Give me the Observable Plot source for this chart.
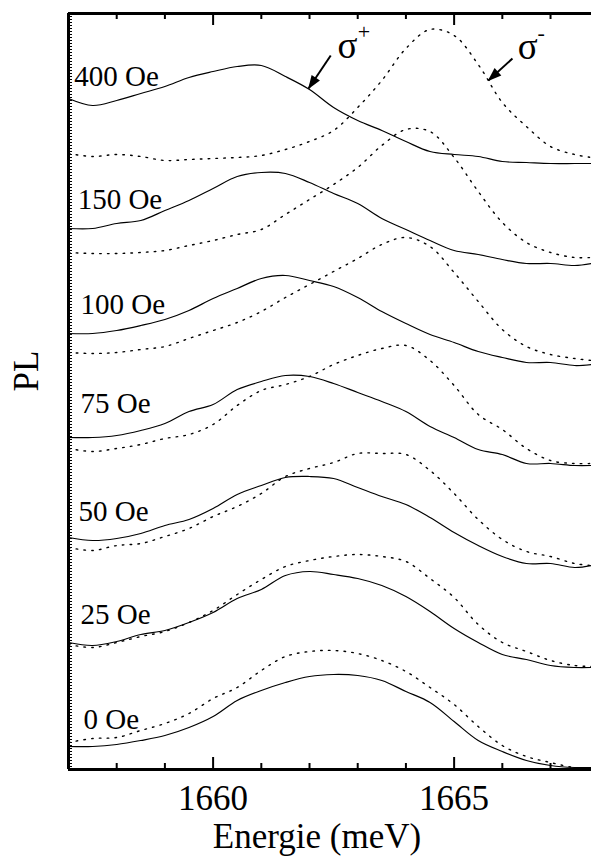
<!DOCTYPE html>
<html><head><meta charset="utf-8">
<script src="https://cdn.jsdelivr.net/npm/d3@7"></script>
<script src="https://cdn.jsdelivr.net/npm/@observablehq/plot@0.6"></script>
<style>
body{margin:0;background:#fff;}
svg{display:block;}
#chart svg, #chart svg text { font-family: "Liberation Serif", "Times New Roman", serif !important; }
</style>
</head><body><div id="chart"></div>
<script>
// Photon energy grid (meV)
const energy = [1657, 1657.5, 1658, 1658.5, 1659, 1659.5, 1660, 1660.5, 1661, 1661.5, 1662, 1662.5, 1663, 1663.5, 1664, 1664.5, 1665, 1665.5, 1666, 1666.5, 1667, 1667.5, 1667.85];

// PL spectra (arb. units, vertically offset per field), sigma+ (solid) and sigma- (dotted)
const plus400  = [67.1,66.4,66.9,67.6,68.3,69.2,69.8,70.3,70.4,69.3,68.0,66.2,64.9,63.9,62.8,61.8,61.5,61.3,60.8,60.7,60.6,60.6,60.6];
const minus400 = [61.6,61.3,61.5,61.3,60.9,61.0,61.1,61.2,61.4,62.0,62.8,63.9,66.2,68.9,72.1,74.0,73.4,70.5,66.7,64.3,62.3,61.5,61.2];
const plus150  = [54.1,54.1,54.6,54.9,55.9,56.9,58.1,59.3,59.7,59.6,58.7,57.6,56.6,55.1,54.0,52.9,51.9,51.5,51.0,50.6,50.6,50.4,50.6];
const minus150 = [51.7,51.6,51.6,51.7,51.9,52.4,52.9,53.5,54.0,55.5,57.0,58.5,60.2,62.4,64.0,63.8,61.2,57.8,54.7,52.7,51.7,51.2,51.2];
const plus100  = [43.6,43.6,43.9,44.4,45.0,45.9,47.1,48.1,49.1,49.4,48.9,48.3,47.2,45.8,44.6,43.5,42.7,41.8,41.2,40.7,40.7,40.4,40.5];
const minus100 = [41.7,41.6,41.7,42.0,42.3,43.1,43.9,44.7,45.8,47.2,48.5,49.8,51.1,52.5,53.2,52.3,49.7,46.8,44.0,42.3,41.5,41.1,40.9];
const plus75   = [33.2,33.2,33.4,33.9,34.6,35.8,36.5,38.0,38.8,39.4,39.3,38.6,37.7,36.8,35.8,34.3,33.2,32.0,31.5,30.6,30.6,30.4,30.4];
const minus75  = [32.1,31.8,32.1,32.5,33.1,33.5,34.5,36.4,37.9,38.5,39.3,40.5,41.4,42.1,42.4,40.9,38.4,35.5,34.0,32.1,30.9,30.6,30.6];
const plus50   = [23.2,22.9,23.1,23.6,24.4,25.0,26.1,27.5,28.4,29.2,29.3,29.1,28.2,27.3,26.5,25.2,23.7,22.4,21.3,20.6,20.6,20.2,20.4];
const minus50  = [22.2,21.9,22.4,22.6,23.3,24.1,25.3,26.3,27.6,29.3,30.1,30.7,31.6,31.6,31.5,29.9,27.6,25.0,23.0,21.8,21.3,20.6,20.4];
const plus25   = [12.7,12.4,12.8,13.5,13.9,14.7,15.7,17.1,18.0,19.4,19.8,19.5,19.1,18.4,17.3,15.8,14.1,12.7,11.5,11.0,10.4,10.2,10.2];
const minus25  = [12.5,12.2,12.7,13.3,13.8,14.7,15.9,17.5,19.0,20.3,20.9,21.3,21.5,21.3,20.8,19.1,17.2,14.5,12.7,11.8,10.9,10.4,10.3];
const plus0    = [2.3,2.3,2.5,2.9,3.4,4.2,5.3,6.9,7.9,8.7,9.3,9.5,9.4,8.9,7.8,6.7,4.8,2.9,1.8,0.9,0.4,0.2,0.2];
const minus0   = [2.7,3.1,3.2,3.9,4.6,5.6,7.1,8.2,9.9,11.3,11.8,11.9,11.6,10.9,9.8,8.2,6.5,4.3,2.4,1.3,0.7,0.2,0.2];

// Field labels and their anchor (energy, PL)
const fieldLabels = ["400 Oe","150 Oe","100 Oe","75 Oe","50 Oe","25 Oe","0 Oe"];
const labelE  = [1657.12,1657.19,1657.25,1657.25,1657.21,1657.25,1657.31];
const labelPL = [68.4,56.1,45.6,35.7,24.9,14.6,4.1];

// Axis ticks
const majorTicks = [1660, 1665];
const minorTicks = [1658, 1659, 1661, 1662, 1663, 1664, 1666, 1667];
const xDomain = [1657, 1667.85];
const yDomain = [0, 75.6];

// Polarisation annotations
const sigmaText = ["σ", "σ"];
const sigmaSup = ["+", "-"];
const sigmaE = [1662.58, 1666.32];
const sigmaPL = [71.2, 71.1];
const supE = [1663.0, 1666.73];
const supPL = [73.8, 73.7];
const arrowFromE = [1662.44, 1666.21];
const arrowFromPL = [71.4, 71.1];
const arrowToE = [1661.98, 1665.71];
const arrowToPL = [68.1, 68.9];

const FONT = "Liberation Serif";

const spectra = [
  ["400 Oe", plus400, minus400], ["150 Oe", plus150, minus150], ["100 Oe", plus100, minus100],
  ["75 Oe", plus75, minus75], ["50 Oe", plus50, minus50], ["25 Oe", plus25, minus25], ["0 Oe", plus0, minus0]
];
const rowsPlus = [], rowsMinus = [];
for (const [f, p, m] of spectra) {
  energy.forEach((e, i) => {
    rowsPlus.push({E: e, PL: p[i], field: f});
    rowsMinus.push({E: e, PL: m[i], field: f});
  });
}
const labels = fieldLabels.map((t, i) => ({t, E: labelE[i], PL: labelPL[i]}));
const sig = sigmaText.map((t, i) => ({t, E: sigmaE[i], PL: sigmaPL[i], s: sigmaSup[i], sE: supE[i], sPL: supPL[i]}));
const arrows = arrowFromE.map((e, i) => ({x1: e, y1: arrowFromPL[i], x2: arrowToE[i], y2: arrowToPL[i]}));

const filledArrow = (color, context) => {
  const m = d3.create("svg:marker")
    .attr("viewBox", "-14 -6 15 12").attr("markerWidth", 15).attr("markerHeight", 12)
    .attr("markerUnits", "userSpaceOnUse").attr("orient", "auto").attr("fill", color).attr("stroke", "none");
  m.append("path").attr("d", "M1,0L-13,-5L-13,5Z");
  return m.node();
};

function build(useCustomMarker) {
  const arrowMark = useCustomMarker
    ? Plot.link(arrows, {x1: "x1", y1: "y1", x2: "x2", y2: "y2", stroke: "black", strokeWidth: 2, markerEnd: filledArrow})
    : Plot.arrow(arrows, {x1: "x1", y1: "y1", x2: "x2", y2: "y2", stroke: "black", strokeWidth: 2, headLength: 12});
  return Plot.plot({
    width: 591, height: 865,
    marginLeft: 68, marginRight: 0, marginTop: 13, marginBottom: 96,
    style: {fontFamily: FONT, background: "white", color: "black"},
    x: {domain: xDomain},
    y: {domain: yDomain, axis: null},
    marks: [
      Plot.line(rowsMinus, {x: "E", y: "PL", z: "field", stroke: "black", strokeWidth: 1.4, strokeDasharray: "1.6,6.2", curve: "catmull-rom"}),
      Plot.line(rowsPlus, {x: "E", y: "PL", z: "field", stroke: "black", strokeWidth: 1.2, curve: "catmull-rom"}),
      Plot.text(labels, {x: "E", y: "PL", text: "t", textAnchor: "start", lineAnchor: "bottom", fontSize: 29, fontFamily: FONT, fill: "black"}),
      Plot.text(sig, {x: "E", y: "PL", text: "t", textAnchor: "start", lineAnchor: "bottom", fontSize: 37, fontFamily: FONT, fill: "black"}),
      Plot.text(sig, {x: "sE", y: "sPL", text: "s", textAnchor: "start", lineAnchor: "middle", fontSize: 22, fontFamily: FONT, fill: "black"}),
      arrowMark,
      // frame: left axis, bottom and top axes
      Plot.ruleX([xDomain[0]], {stroke: "black", strokeWidth: 3}),
      Plot.ruleX([xDomain[0]], {stroke: "black", strokeWidth: 2, dx: 2.5, strokeDasharray: "1,2"}),
      Plot.ruleY(yDomain, {stroke: "black", strokeWidth: 3}),
      Plot.ruleX(minorTicks, {stroke: "black", strokeWidth: 2, insetBottom: 750}),
      Plot.ruleX(minorTicks, {stroke: "black", strokeWidth: 2, insetTop: 750}),
      Plot.ruleX(majorTicks, {stroke: "black", strokeWidth: 2, insetBottom: 744}),
      Plot.ruleX(majorTicks, {stroke: "black", strokeWidth: 2, insetTop: 744}),
      Plot.axisX(majorTicks, {tickSize: 0, tickPadding: 16, fontSize: 35, fontFamily: FONT, label: null, tickFormat: d => String(d)}),
      Plot.text(["Energie (meV)"], {frameAnchor: "bottom", dx: -13, dy: 78, lineAnchor: "bottom", fontSize: 35, fontFamily: FONT, fill: "black"}),
      Plot.text(["PL"], {frameAnchor: "left", dx: -42, rotate: -90, lineAnchor: "middle", fontSize: 35, fontFamily: FONT, fill: "black"})
    ]
  });
}

let chart;
try { chart = build(true); } catch (e) { chart = build(false); }
document.getElementById("chart").append(chart);
</script>
</body></html>
